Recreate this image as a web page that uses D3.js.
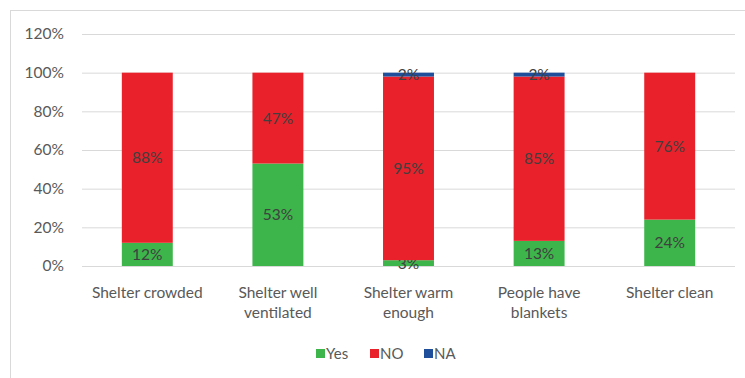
<!DOCTYPE html>
<html>
<head>
<meta charset="utf-8">
<script src="https://cdn.jsdelivr.net/npm/d3@7"></script>
<style>
  body { margin: 0; background: #fff; }
  svg text { font-family: Lato, "Open Sans", sans-serif; }
</style>
</head>
<body>
<div id="chart"></div>
<script>
// chart data
const categories = [['Shelter crowded'], ['Shelter well', 'ventilated'], ['Shelter warm', 'enough'], ['People have', 'blankets'], ['Shelter clean']];
const seriesNames = ['Yes', 'NO', 'NA'];
const yesValues = [12, 53, 3, 13, 24];
const noValues = [88, 47, 95, 85, 76];
const naValues = [0, 0, 2, 2, 0];
const yTicks = [0, 20, 40, 60, 80, 100, 120];

const colors = { Yes: '#3db54a', NO: '#e8212a', NA: '#1f4e9a' };

const width = 745, height = 378;
const margins = { top: 34, right: 10, bottom: 112, left: 82 };

const svg = d3.select('#chart').append('svg')
  .attr('width', width)
  .attr('height', height);

// outer frame
svg.append('rect')
  .attr('x', 10.5).attr('y', 10.5)
  .attr('width', width - 8).attr('height', height)
  .attr('fill', 'none').attr('stroke', '#d9d9d9');

const keys = categories.map(c => c.join(' '));
const rows = keys.map((k, i) => ({ key: k, Yes: yesValues[i], NO: noValues[i], NA: naValues[i] }));

const x = d3.scaleBand().domain(keys)
  .range([margins.left, width - margins.right]).paddingInner(0.61).paddingOuter(0.305);
const y = d3.scaleLinear().domain([0, 120]).range([height - margins.bottom, margins.top]);

// gridlines + y axis labels
const yAxis = svg.append('g')
  .attr('transform', `translate(${margins.left}, 0)`)
  .call(d3.axisLeft(y).tickValues(yTicks).tickFormat(d => d + '%')
    .tickSize(-(width - margins.left - margins.right)));
yAxis.select('.domain').remove();
yAxis.selectAll('.tick line').attr('stroke', '#d9d9d9');
yAxis.selectAll('.tick text').attr('x', -18).attr('fill', '#595959').style('font-size', '15.5px');

// stacked bars
const stacked = d3.stack().keys(seriesNames)(rows);

const layers = svg.selectAll('.layer').data(stacked).enter().append('g')
  .attr('class', 'layer')
  .attr('fill', d => colors[d.key]);

layers.selectAll('rect').data(d => d.filter(s => s[1] > s[0])).enter().append('rect')
  .attr('x', d => x(d.data.key))
  .attr('width', x.bandwidth())
  .attr('y', d => y(d[1]))
  .attr('height', d => y(d[0]) - y(d[1]));

// value labels
layers.each(function(layer) {
  d3.select(this).selectAll('text')
    .data(layer.filter(s => s[1] > s[0]))
    .enter().append('text')
      .attr('x', d => x(d.data.key) + x.bandwidth() / 2)
      .attr('y', d => y((d[0] + d[1]) / 2))
      .attr('dy', '0.35em')
      .attr('text-anchor', 'middle')
      .attr('fill', '#404040')
      .style('font-size', '15.5px')
      .text(d => (d[1] - d[0]) + '%');
});

// x axis labels
const xAxis = svg.append('g')
  .attr('transform', `translate(0, ${height - margins.bottom})`);
xAxis.selectAll('text').data(categories).enter().append('text')
  .attr('x', (d, i) => x(keys[i]) + x.bandwidth() / 2)
  .attr('y', 32)
  .attr('text-anchor', 'middle')
  .attr('fill', '#595959')
  .style('font-size', '15.5px')
  .each(function(lines) {
    d3.select(this).selectAll('tspan').data(lines).enter().append('tspan')
      .attr('x', d3.select(this).attr('x'))
      .attr('dy', (d, j) => j ? 20 : 0)
      .text(d => d);
  });

// legend
const legendItems = [{ name: 'Yes', x: 316 }, { name: 'NO', x: 370 }, { name: 'NA', x: 424 }];
const legend = svg.append('g').attr('transform', 'translate(0, 354)');
legendItems.forEach(item => {
  legend.append('rect')
    .attr('x', item.x).attr('y', -5)
    .attr('width', 9).attr('height', 9)
    .attr('fill', colors[item.name]);
  legend.append('text')
    .attr('x', item.x + 10).attr('y', 0)
    .attr('dy', '0.35em')
    .attr('fill', '#595959')
    .style('font-size', '15px')
    .text(item.name);
});
</script>
</body>
</html>
